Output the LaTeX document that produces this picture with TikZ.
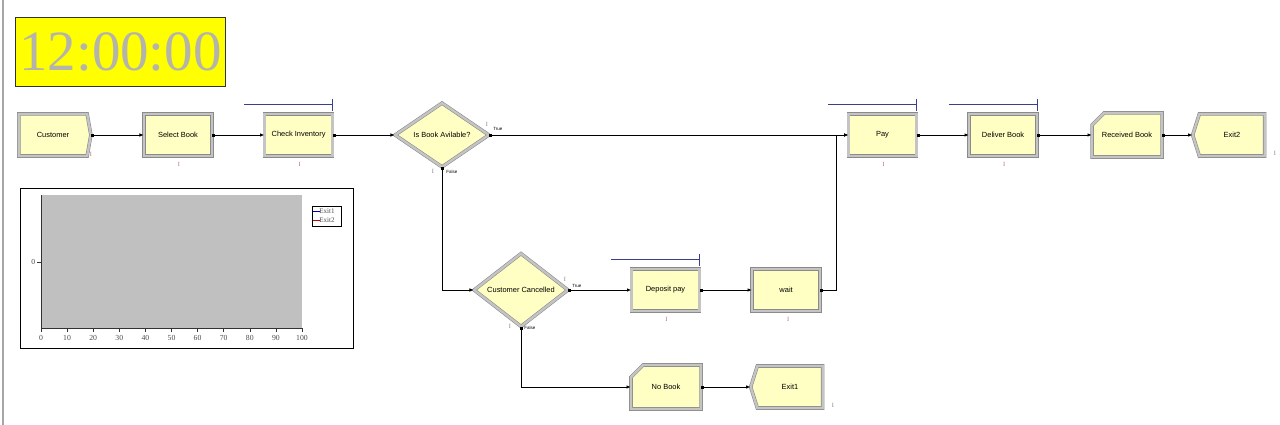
\documentclass[tikz,border=0pt]{standalone}
\usepackage{fontspec}
\setmainfont{Liberation Serif}
\setsansfont{Liberation Sans}
\usepackage{xcolor}
\usepackage{tikz}
\usetikzlibrary{
  positioning, arrows.meta, shapes.geometric, shapes.misc, shapes.symbols, calc
}
\definecolor{arbox}{HTML}{FFFFC4}
\definecolor{arframe}{HTML}{8A8A8A}
\definecolor{arframelt}{HTML}{C4C4C4}
\definecolor{arres}{HTML}{3A3F8C}
\definecolor{arcount}{HTML}{C06060}
\definecolor{clockgray}{HTML}{B4B4AC}
\definecolor{plotgray}{HTML}{C0C0C0}
\definecolor{clockyellow}{HTML}{FFFF00}

% resource bar above a module
\newcommand{\resbar}[1]{%
  \draw[resline] ($(#1.north west)+(-20,-9)$) -- ($(#1.north east)+(0,-9)$);
  \draw[resline] ($(#1.north east)+(0,-15)$) -- ($(#1.north east)+(0,-3)$);
}

\begin{document}
\begin{tikzpicture}[
  x=0.025cm, y=-0.025cm,
  frame/.style={
    draw=arframe, double=arframelt, double distance=1.7pt, line width=0.4pt,
    fill=arbox, font=\sffamily\fontsize{5.3}{6}\selectfont, inner sep=1pt
  },
  module/.style={frame, rectangle, minimum width=1.7cm, minimum height=1.05cm},
  create/.style={frame, signal, signal to=east, signal pointer angle=160,
    minimum width=1.8cm, minimum height=1.05cm},
  dispose/.style={frame, signal, signal to=west, signal pointer angle=145,
    minimum width=1.8cm, minimum height=1.05cm},
  record/.style={frame, chamfered rectangle, chamfered rectangle corners=north west,
    chamfered rectangle sep=0.2cm, minimum width=1.75cm, minimum height=1.1cm},
  decide/.style={frame, diamond, minimum width=2.35cm, minimum height=1.6cm, inner sep=0pt},
  conn/.style={{Square[length=2pt,width=2pt]}-{Latex[length=3pt,width=2.5pt]}, line width=0.6pt},
  resline/.style={draw=arres, line width=0.7pt},
  cnt/.style={font=\fontsize{4.5}{5}\selectfont, text=arcount, inner sep=0pt},
  cntg/.style={font=\fontsize{4.5}{5}\selectfont, text=gray, inner sep=0pt},
  tf/.style={font=\sffamily\fontsize{3.2}{4}\selectfont, inner sep=0pt, anchor=west},
  axlab/.style={font=\fontsize{5.5}{6}\selectfont, text=black!70, inner sep=0pt},
]
\useasboundingbox (0,0) rectangle (1280,425);

% page border
\draw[gray!70, line width=0.8pt] (3,0) -- (3,425);

% clock
\node[draw=black!80, fill=clockyellow, minimum width=5.25cm, minimum height=1.72cm,
  inner sep=0pt, text=clockgray, font=\fontsize{40.5}{40}\selectfont] (clock) at (120.5,51.5) {12:00:00};

% Top row
\node[create] (customer) at (53,135) {Customer};
\node[module] (selbook) at (178,135) {Select Book};
\node[module, right=1.3cm of selbook] (checkinv) {Check Inventory};
\node[decide] (avail) at (442,135) {Is Book Avilable?};
\node[module] (pay) at (882.5,135) {Pay};
\node[module, right=1.3cm of pay] (deliver) {Deliver Book};
\node[record] (received) at (1127,135) {Received Book};
\node[dispose] (exit2) at (1232,135) {Exit2};

% Lower branch
\node[decide] (cancel) at (521,290) {Customer Cancelled};
\node[module] (deposit) at (665.5,290) {Deposit pay};
\node[module, right=1.3cm of deposit] (wait) {wait};
\node[record] (nobook) at (666,387) {No Book};
\node[dispose] (exit1) at (790,387) {Exit1};

% Resources
\resbar{checkinv}
\resbar{pay}
\resbar{deliver}
\resbar{deposit}

% Counters
\node[cnt] at (91,154) {I};
\node[cnt] at ($(selbook.south)+(1,8)$) {I};
\node[cnt] at ($(checkinv.south)+(1,8)$) {I};
\node[cnt] at ($(pay.south)+(1,8)$) {I};
\node[cnt] at ($(deliver.south)+(1,8)$) {I};
\node[cnt] at ($(deposit.south)+(1,8)$) {I};
\node[cnt] at ($(wait.south)+(2,8)$) {I};
\node[cntg] at (1275,153) {I};
\node[cntg] at (833,405) {I};
\node[cntg] at (487,124) {I};
\node[cntg] at (433,171) {I};
\node[cntg] at (565,279) {I};
\node[cntg] at (510,326) {I};

% True / False
\node[tf] at (493,129) {True};
\node[tf] at (446,172) {False};
\node[tf] at (572,286) {True};
\node[tf] at (524,328) {False};

% Connectors
\draw[conn] (customer.east) -- (selbook.west);
\draw[conn] (selbook.east) -- (checkinv.west);
\draw[conn] (checkinv.east) -- (avail.west);
\draw[conn] (avail.east) -- (pay.west);
\draw[conn] (avail.south) |- (cancel.west);
\draw[conn] (cancel.east) -- (deposit.west);
\draw[conn] (deposit.east) -- (wait.west);
\draw[conn] (wait.east) -| ($(pay.west)+(-12,0)$) -- (pay.west);
\draw[conn] (cancel.south) |- (nobook.west);
\draw[conn] (nobook.east) -- (exit1.west);
\draw[conn] (pay.east) -- (deliver.west);
\draw[conn] (deliver.east) -- (received.west);
\draw[conn] (received.east) -- (exit2.west);

% Chart
\draw[black, line width=0.6pt] (20,188) rectangle (353,348);
\fill[plotgray] (41,195) rectangle (302,328);
\draw[black!80, line width=0.5pt] (41,195) -- (41,328) -- (302,328);
\foreach \v in {0,10,...,100}
  \draw[black!80, line width=0.4pt] (41+2.61*\v,328) -- (41+2.61*\v,332)
    node[axlab, below=2pt] {\v};
\draw[black!80, line width=0.4pt] (37,262) -- (41,262);
\node[axlab, left=1pt] at (37,262) {0};
% legend
\draw[black, line width=0.4pt, fill=white] (312,206) rectangle (341,226);
\draw[blue!70!black, line width=0.6pt] (313,211) -- (320,211);
\node[axlab, anchor=west, font=\fontsize{5}{5}\selectfont] at (319,211) {Exit1};
\draw[red!80!black, line width=0.6pt] (313,220) -- (320,220);
\node[axlab, anchor=west, font=\fontsize{5}{5}\selectfont] at (319,220) {Exit2};

\end{tikzpicture}
\end{document}
